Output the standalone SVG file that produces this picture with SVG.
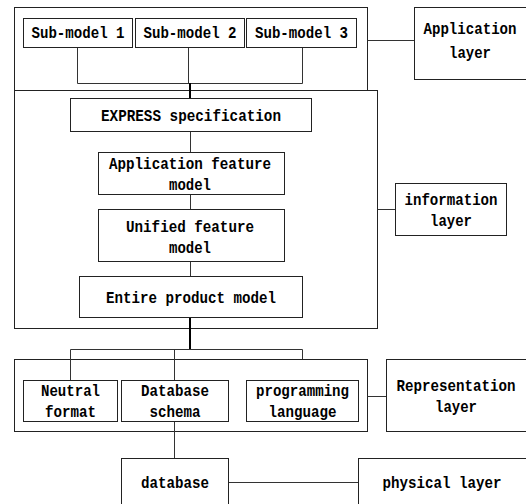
<svg xmlns="http://www.w3.org/2000/svg" width="526" height="504" viewBox="0 0 526 504">
<style>
rect{fill:#fff;stroke:#222;stroke-width:1}
.c line,.c polyline{stroke:#333;stroke-width:1;fill:none}
.c .t{stroke:#000;stroke-width:2}
text{font-family:"Liberation Mono","DejaVu Sans Mono",monospace;font-weight:bold;font-size:17px;fill:#000;text-anchor:middle}
</style>
<rect x="0" y="0" width="526" height="504" style="stroke:none"/>
<g id="app-group"><rect x="14.5" y="7.5" width="353" height="98"/></g>
<g id="info-group"><rect x="14.5" y="90.5" width="363" height="238"/></g>
<g id="rep-group"><rect x="14.5" y="359.5" width="353" height="72"/></g>
<g class="c" id="connectors">
<polyline points="77.5,47 77.5,83.5 302.5,83.5 302.5,47"/>
<line x1="188.5" y1="47" x2="188.5" y2="83.5"/>
<line class="t" x1="190" y1="83" x2="190" y2="98"/>
<line x1="367.5" y1="40.5" x2="414" y2="40.5"/>
<line x1="190.5" y1="131" x2="190.5" y2="152"/>
<line x1="190.5" y1="194" x2="190.5" y2="209"/>
<line x1="190.5" y1="261" x2="190.5" y2="276"/>
<line x1="377.5" y1="209.5" x2="395" y2="209.5"/>
<line class="t" x1="190" y1="317" x2="190" y2="349.5"/>
<polyline points="70.5,380 70.5,349.5 302.5,349.5 302.5,359"/>
<line x1="174.5" y1="349.5" x2="174.5" y2="458"/>
<line x1="367.5" y1="396.5" x2="386" y2="396.5"/>
<line x1="228" y1="482.5" x2="358" y2="482.5"/>
</g>
<g id="sub1"><rect x="23.5" y="18.5" width="109" height="29"/><text x="78" y="38" textLength="93" lengthAdjust="spacingAndGlyphs">Sub-model 1</text></g>
<g id="sub2"><rect x="135.5" y="18.5" width="109" height="29"/><text x="190" y="38" textLength="93" lengthAdjust="spacingAndGlyphs">Sub-model 2</text></g>
<g id="sub3"><rect x="246.5" y="18.5" width="110" height="29"/><text x="301.5" y="38" textLength="93" lengthAdjust="spacingAndGlyphs">Sub-model 3</text></g>
<g id="app-layer"><rect x="414.5" y="7.5" width="120" height="72"/><text x="470" y="34" textLength="93" lengthAdjust="spacingAndGlyphs">Application</text><text x="470" y="58" textLength="42" lengthAdjust="spacingAndGlyphs">layer</text></g>
<g id="express"><rect x="70.5" y="98.5" width="241" height="33"/><text x="191" y="121" textLength="180" lengthAdjust="spacingAndGlyphs">EXPRESS specification</text></g>
<g id="afm"><rect x="98.5" y="152.5" width="186" height="42"/><text x="190" y="169" textLength="162" lengthAdjust="spacingAndGlyphs">Application feature</text><text x="190" y="190" textLength="42" lengthAdjust="spacingAndGlyphs">model</text></g>
<g id="ufm"><rect x="98.5" y="209.5" width="186" height="52"/><text x="190" y="232" textLength="128" lengthAdjust="spacingAndGlyphs">Unified feature</text><text x="190" y="253" textLength="42" lengthAdjust="spacingAndGlyphs">model</text></g>
<g id="epm"><rect x="79.5" y="276.5" width="223" height="41"/><text x="191" y="303" textLength="170" lengthAdjust="spacingAndGlyphs">Entire product model</text></g>
<g id="info-layer"><rect x="395.5" y="183.5" width="111" height="52"/><text x="451" y="205" textLength="93" lengthAdjust="spacingAndGlyphs">information</text><text x="451" y="226" textLength="42" lengthAdjust="spacingAndGlyphs">layer</text></g>
<g id="neutral"><rect x="23.5" y="380.5" width="94" height="41"/><text x="70.5" y="396" textLength="59" lengthAdjust="spacingAndGlyphs">Neutral</text><text x="70.5" y="417" textLength="51" lengthAdjust="spacingAndGlyphs">format</text></g>
<g id="dbschema"><rect x="121.5" y="380.5" width="107" height="41"/><text x="175" y="396" textLength="68" lengthAdjust="spacingAndGlyphs">Database</text><text x="175" y="417" textLength="51" lengthAdjust="spacingAndGlyphs">schema</text></g>
<g id="proglang"><rect x="246.5" y="380.5" width="112" height="41"/><text x="302.5" y="396" textLength="93" lengthAdjust="spacingAndGlyphs">programming</text><text x="302.5" y="417" textLength="68" lengthAdjust="spacingAndGlyphs">language</text></g>
<g id="rep-layer"><rect x="386.5" y="359.5" width="150" height="72"/><text x="456" y="391" textLength="119" lengthAdjust="spacingAndGlyphs">Representation</text><text x="456" y="412" textLength="42" lengthAdjust="spacingAndGlyphs">layer</text></g>
<g id="database"><rect x="121.5" y="458.5" width="107" height="60"/><text x="175" y="488" textLength="68" lengthAdjust="spacingAndGlyphs">database</text></g>
<g id="physical"><rect x="358.5" y="458.5" width="180" height="60"/><text x="442" y="488" textLength="119" lengthAdjust="spacingAndGlyphs">physical layer</text></g>
</svg>
